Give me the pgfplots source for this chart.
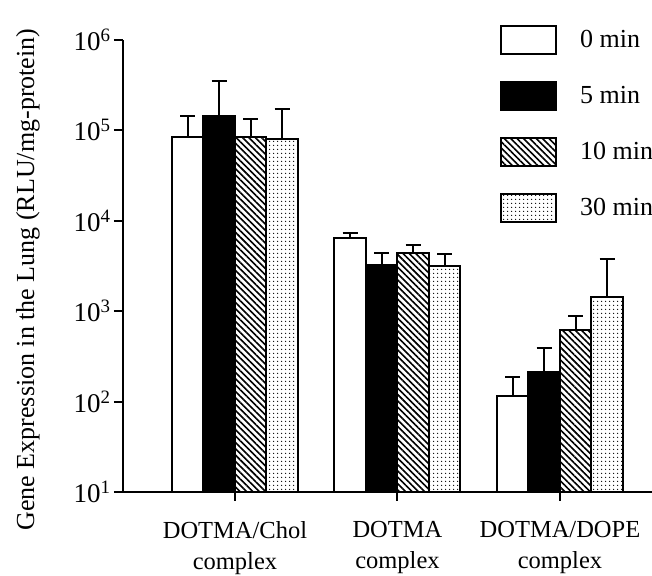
\documentclass[border=0pt]{standalone}
\usepackage{pgfplots}
\pgfplotsset{compat=1.18}
\usetikzlibrary{patterns.meta}
\usepackage{fontspec}
\setmainfont{Liberation Serif}

\pgfplotsset{
  barbase/.style={draw=black, line width=2bp,
    error bars/y dir=plus, error bars/y explicit,
    error bars/error bar style={line width=2bp, black, solid},
    error bars/error mark options={rotate=90, mark size=7.5bp, line width=2bp, black}},
}

\begin{document}
\begin{tikzpicture}[font=\fontsize{24.5bp}{31bp}\selectfont]
\path[use as bounding box] (-123bp,-84bp) rectangle (529bp,492bp);
\clip (-123bp,-84bp) rectangle (529bp,492bp);
\begin{axis}[
  at={(0,0)}, anchor=south west,
  scale only axis, width=540bp, height=452bp,
  ymode=log, ymin=10, ymax=1e6, log origin=infty,
  xmin=0.311, xmax=3.634,
  axis lines=left,
  axis line style={-, line width=2.4bp},
  tick align=outside,
  major tick length=9bp,
  tick style={line width=2bp, black},
  minor tick num=0,
  ytick={10,100,1000,10000,100000,1000000},
  yticklabels={10\textsuperscript{1},10\textsuperscript{2},10\textsuperscript{3},10\textsuperscript{4},10\textsuperscript{5},10\textsuperscript{6}},
  yticklabel style={font=\fontsize{27bp}{31bp}\selectfont},
  yminorticks=false,
  xtick={1,2,3},
  xticklabels={{DOTMA/Chol\\complex},{DOTMA\\complex},{DOTMA/DOPE\\complex}},
  xticklabel style={align=center, yshift=-17bp},
  ylabel={Gene Expression in the Lung (RLU/mg-protein)},
  ylabel style={at={(axis description cs:-0.176,0.47)}, anchor=center, font=\fontsize{26bp}{31bp}\selectfont},
  ybar=0pt, bar width=31.5bp,
  clip=false,
  legend image code/.code={\draw[#1, line width=2bp] (0bp,-14bp) rectangle (55bp,14bp);},
  legend style={draw=none, fill=none, at={(axis description cs:0.6926,1.039)}, anchor=north west,
    row sep=26bp, column sep=11bp, nodes={inner xsep=12bp}, font=\fontsize{26bp}{31bp}\selectfont},
  legend cell align=left,
]
\addplot[barbase, fill=white] coordinates {(1,84500) +- (0,59500) (2,6450) +- (0,880) (3,115) +- (0,72)};
\addplot[barbase, fill=black] coordinates {(1,144000) +- (0,208000) (2,3240) +- (0,1160) (3,212) +- (0,180)};
\addplot[barbase, pattern={Lines[angle=-45,distance=4.5bp,line width=1.6bp]}] coordinates {(1,84500) +- (0,49500) (2,4400) +- (0,1000) (3,620) +- (0,265)};
\addplot[barbase, pattern={Dots[distance=3.6bp,radius=0.7bp]}] coordinates {(1,80000) +- (0,93000) (2,3160) +- (0,1140) (3,1436) +- (0,2344)};
\legend{0 min,5 min,10 min,30 min}
\end{axis}
\end{tikzpicture}
\end{document}
